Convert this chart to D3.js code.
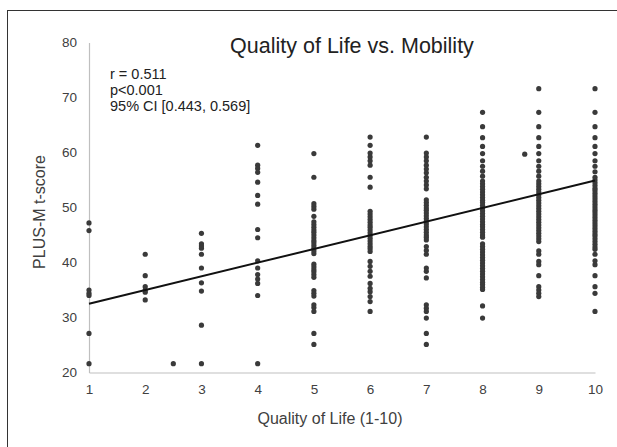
<!DOCTYPE html>
<html>
<head>
<meta charset="utf-8">
<script src="https://cdn.jsdelivr.net/npm/d3@7"></script>
<style>
  body { margin: 0; background: #fff; }
  svg { font-family: "Liberation Sans", Arial, sans-serif; }
</style>
</head>
<body>
<div id="chart"></div>
<script>
// x categories (quality of life score) and PLUS-M t-scores
var qolScores = [1, 2, 3, 4, 5, 6, 7, 8, 9, 10];
var yTicks = [20, 30, 40, 50, 60, 70, 80];

var mobilityQol1 = [47.2, 45.8, 35.0, 34.4, 34.0, 27.1, 21.6];
var mobilityQol2 = [41.5, 37.6, 35.6, 35.0, 34.6, 33.2];
var mobilityQol3 = [45.3, 43.4, 43.0, 42.6, 41.5, 39.0, 36.3, 34.8, 28.6, 21.6];
var mobilityQol4 = [61.3, 57.7, 57.1, 56.4, 54.6, 52.2, 50.6, 46.0, 44.5, 40.3, 39.0, 37.8, 37.0, 36.2, 34.0, 21.6];
var mobilityQol5 = [59.8, 55.5, 50.7, 50.2, 49.7, 48.4, 47.4, 46.9, 46.4, 45.9, 45.5, 45.0, 44.5, 44.0, 43.6, 43.1,
  42.6, 42.1, 41.6, 39.7, 39.2, 38.7, 38.3, 37.8, 37.3, 34.9, 34.4, 33.9, 32.3, 31.8, 31.1, 27.1, 25.1];
var mobilityQol6 = [62.8, 61.3, 59.9, 59.2, 58.5, 57.7, 55.5, 53.7, 49.3, 48.8, 48.3, 47.8, 47.3, 46.8, 46.4, 45.9,
  45.4, 44.9, 44.4, 43.9, 43.4, 42.9, 42.5, 42.0, 40.2, 39.3, 38.4, 37.5, 36.2, 35.3, 34.7, 33.8, 32.9, 31.1];
var mobilityQol7 = [62.8, 59.9, 59.2, 58.5, 57.7, 57.0, 56.3, 55.5, 54.8, 54.1, 53.4, 51.4, 50.9, 50.4, 49.9, 49.5,
  49.0, 48.5, 48.0, 47.5, 47.0, 46.5, 46.0, 45.5, 45.0, 44.6, 44.1, 42.9, 42.2, 41.5, 39.0, 38.4, 37.2,
  32.3, 31.7, 31.1, 29.9, 27.1, 25.1];
var mobilityQol8 = [67.3, 64.7, 62.7, 61.1, 59.8, 58.5, 57.5, 56.6, 55.7, 54.8, 54.3, 53.8, 53.3, 52.8, 52.3, 51.8,
  51.3, 50.9, 50.4, 49.9, 49.4, 48.9, 48.4, 47.9, 47.4, 46.9, 46.5, 46.0, 45.5, 45.0, 44.6, 43.4, 42.9, 42.4,
  41.9, 41.4, 40.9, 40.4, 39.9, 39.4, 38.9, 38.4, 37.9, 37.4, 36.9, 36.4, 36.0, 35.5, 35.1, 32.1, 29.9];
var mobilityQol9 = [71.6, 67.3, 64.7, 62.7, 61.1, 59.8, 58.5, 57.5, 56.6, 55.7, 54.8, 54.3, 53.8, 53.3, 52.8, 52.3,
  51.8, 51.3, 50.8, 50.3, 49.8, 49.3, 48.8, 48.3, 47.8, 47.3, 46.8, 46.3, 45.8, 45.3, 44.8, 44.3, 43.8,
  42.1, 41.5, 40.2, 39.6, 37.6, 35.6, 35.0, 34.4, 33.8];
var mobilityQol10 = [71.6, 67.3, 64.7, 62.7, 61.1, 59.8, 58.5, 57.5, 56.5, 55.5, 55.0, 54.5, 54.0, 53.5, 53.1, 52.6,
  52.1, 51.6, 51.1, 50.6, 50.1, 49.6, 49.2, 48.7, 48.2, 47.7, 47.2, 46.7, 46.2, 45.7, 45.2, 44.8, 44.3,
  43.8, 43.3, 42.8, 42.4, 41.5, 40.3, 39.6, 37.6, 35.6, 34.4, 31.1];

// odd points sitting between columns
var offColumnQol = [2.5, 8.75];
var offColumnMobility = [21.6, 59.7];

// regression line end points
var trendQol = [1, 10];
var trendMobility = [32.5, 54.9];

var statsLines = ['r = 0.511', 'p<0.001', '95% CI [0.443, 0.569]'];

var columns = [mobilityQol1, mobilityQol2, mobilityQol3, mobilityQol4, mobilityQol5,
  mobilityQol6, mobilityQol7, mobilityQol8, mobilityQol9, mobilityQol10];

var width = 617, height = 447;
var textColor = '#404040';

var svg = d3.select('#chart').append('svg')
  .attr('width', width)
  .attr('height', height);

svg.append('rect')
  .attr('x', 7.5).attr('y', 10.5)
  .attr('width', 700).attr('height', 500)
  .attr('fill', 'none')
  .attr('stroke', '#333')
  .attr('stroke-width', 1);

var x = d3.scaleLinear().domain([1, 10]).range([89, 595]);
var y = d3.scaleLinear().domain([20, 80]).range([372.5, 42.5]);

var yAxis = d3.axisLeft(y).tickValues(yTicks).tickSize(0).tickPadding(12);
var xAxis = d3.axisBottom(x).tickValues(qolScores).tickSize(0).tickPadding(12);

var gy = svg.append('g').attr('transform', 'translate(' + x(1) + ',0)').call(yAxis);
var gx = svg.append('g').attr('transform', 'translate(0,' + y(20) + ')').call(xAxis);

[gx, gy].forEach(function(g) {
  g.select('.domain').attr('stroke', '#bfbfbf').attr('stroke-width', 1.2);
  g.selectAll('text')
    .attr('fill', textColor)
    .style('font-size', '13.5px');
});

var points = [];
columns.forEach(function(col, i) {
  col.forEach(function(v) { points.push({ q: qolScores[i], m: v }); });
});
offColumnQol.forEach(function(q, i) { points.push({ q: q, m: offColumnMobility[i] }); });

svg.append('g').selectAll('circle')
  .data(points)
  .enter().append('circle')
  .attr('cx', function(d) { return x(d.q); })
  .attr('cy', function(d) { return y(d.m); })
  .attr('r', 2.6)
  .attr('fill', '#3a3a3a');

var line = d3.line()
  .x(function(d) { return x(d[0]); })
  .y(function(d) { return y(d[1]); });

svg.append('path')
  .datum(d3.zip(trendQol, trendMobility))
  .attr('d', line)
  .attr('fill', 'none')
  .attr('stroke', '#111')
  .attr('stroke-width', 2);

svg.append('text')
  .attr('x', 352).attr('y', 53)
  .attr('text-anchor', 'middle')
  .attr('fill', '#222')
  .style('font-size', '21.5px')
  .text('Quality of Life vs. Mobility');

svg.append('g').selectAll('text')
  .data(statsLines)
  .enter().append('text')
  .attr('x', 110)
  .attr('y', function(d, i) { return 79 + i * 16; })
  .attr('fill', '#222')
  .style('font-size', '14.5px')
  .text(function(d) { return d; });

svg.append('text')
  .attr('transform', 'translate(45,212) rotate(-90)')
  .attr('text-anchor', 'middle')
  .attr('fill', textColor)
  .style('font-size', '16px')
  .text('PLUS-M t-score');

svg.append('text')
  .attr('x', 330).attr('y', 424)
  .attr('text-anchor', 'middle')
  .attr('fill', textColor)
  .style('font-size', '16px')
  .text('Quality of Life (1-10)');
</script>
</body>
</html>
